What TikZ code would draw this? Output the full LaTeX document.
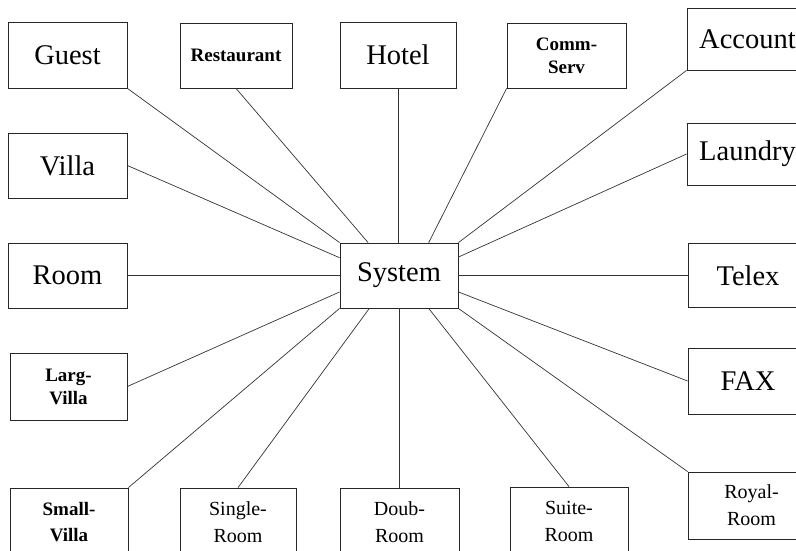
\documentclass[tikz,border=0pt]{standalone}
\usepackage{fontspec}
\setmainfont{Liberation Serif}
\usetikzlibrary{calc}

\tikzset{
  blk/.style={draw=black!85, line width=0.8pt, rectangle, inner sep=0pt,
              align=center, font=\fontsize{28.5}{30}\selectfont},
  sblk/.style={blk, font=\fontsize{20}{27}\selectfont},
  bblk/.style={blk, font=\fontsize{19}{23}\selectfont\bfseries},
  bbblk/.style={blk, font=\fontsize{19}{26}\selectfont\bfseries},
  link/.style={draw=black!80, line width=0.7pt},
}

\begin{document}
\begin{tikzpicture}[x=1pt, y=-1pt]
  \useasboundingbox (0,0) rectangle (796,551);
  \clip (0,0) rectangle (796,551);

  % top row
  \node[blk,  minimum width=119pt, minimum height=66pt] (guest) at (67.5,55) {Guest};
  \node[bblk, minimum width=112pt, minimum height=65pt] (rest)  at (236,55.5) {Restaurant};
  \node[blk,  minimum width=116pt, minimum height=66pt] (hotel) at (398,55) {Hotel};
  \node[bblk, minimum width=119pt, minimum height=65pt] (comm)  at (566.5,55.5) {Comm-\\Serv};
  \node[blk,  minimum width=121pt, minimum height=62pt] (acct)  at (747.5,39) {Account};

  % left column
  \node[blk,  minimum width=119pt, minimum height=65pt] (villa) at (67.5,165.5) {Villa};
  \node[blk,  minimum width=119pt, minimum height=65pt] (room)  at (67.5,275.5) {Room};
  \node[bblk, minimum width=117pt, minimum height=67pt] (larg)  at (68.5,386.5) {Larg-\\Villa};

  % right column
  \node[blk,  minimum width=121pt, minimum height=62pt] (laun)  at (747.5,154) {Laundry};
  \node[blk,  minimum width=120pt, minimum height=64pt] (telex) at (748,275.5) {Telex};
  \node[blk,  minimum width=120pt, minimum height=66pt] (fax)   at (748,381) {FAX};

  % centre
  \node[blk,  minimum width=118pt, minimum height=65pt] (sys)   at (399,275.5) {System};

  % bottom row
  \node[bbblk, minimum width=118pt, minimum height=68pt] (small)  at (69,522) {Small-\\Villa};
  \node[sblk, minimum width=116pt, minimum height=68pt] (single) at (238,522) {Single-\\Room};
  \node[sblk, minimum width=119pt, minimum height=68pt] (doub)   at (399.5,522) {Doub-\\Room};
  \node[sblk, minimum width=118pt, minimum height=69pt] (suite)  at (569,521.5) {Suite-\\Room};
  \node[sblk, minimum width=127pt, minimum height=67pt] (royal)  at (751.5,505.5) {Royal-\\Room};

  % connectors to the system box
  \draw[link] (guest.south east) -- (sys.north west);
  \draw[link] (rest.south) -- ($(sys.north west)!0.24!(sys.north east)$);
  \draw[link] (hotel.south) -- (hotel.south |- sys.north);
  \draw[link] (comm.south west) -- ($(sys.north west)!0.75!(sys.north east)$);
  \draw[link] (acct.south west) -- (sys.north east);
  \draw[link] (laun.west) -- ($(sys.north east)!0.22!(sys.south east)$);
  \draw[link] (telex.west) -- (sys.east);
  \draw[link] (fax.west) -- ($(sys.north east)!0.75!(sys.south east)$);
  \draw[link] (royal.north west) -- (sys.south east);
  \draw[link] (suite.north) -- ($(sys.south west)!0.75!(sys.south east)$);
  \draw[link] (doub.north |- sys.south) -- (doub.north);
  \draw[link] (single.north) -- ($(sys.south west)!0.25!(sys.south east)$);
  \draw[link] (small.north east) -- (sys.south west);
  \draw[link] (larg.east) -- ($(sys.north west)!0.75!(sys.south west)$);
  \draw[link] (room.east) -- (sys.west);
  \draw[link] (villa.east) -- ($(sys.north west)!0.23!(sys.south west)$);
\end{tikzpicture}
\end{document}
